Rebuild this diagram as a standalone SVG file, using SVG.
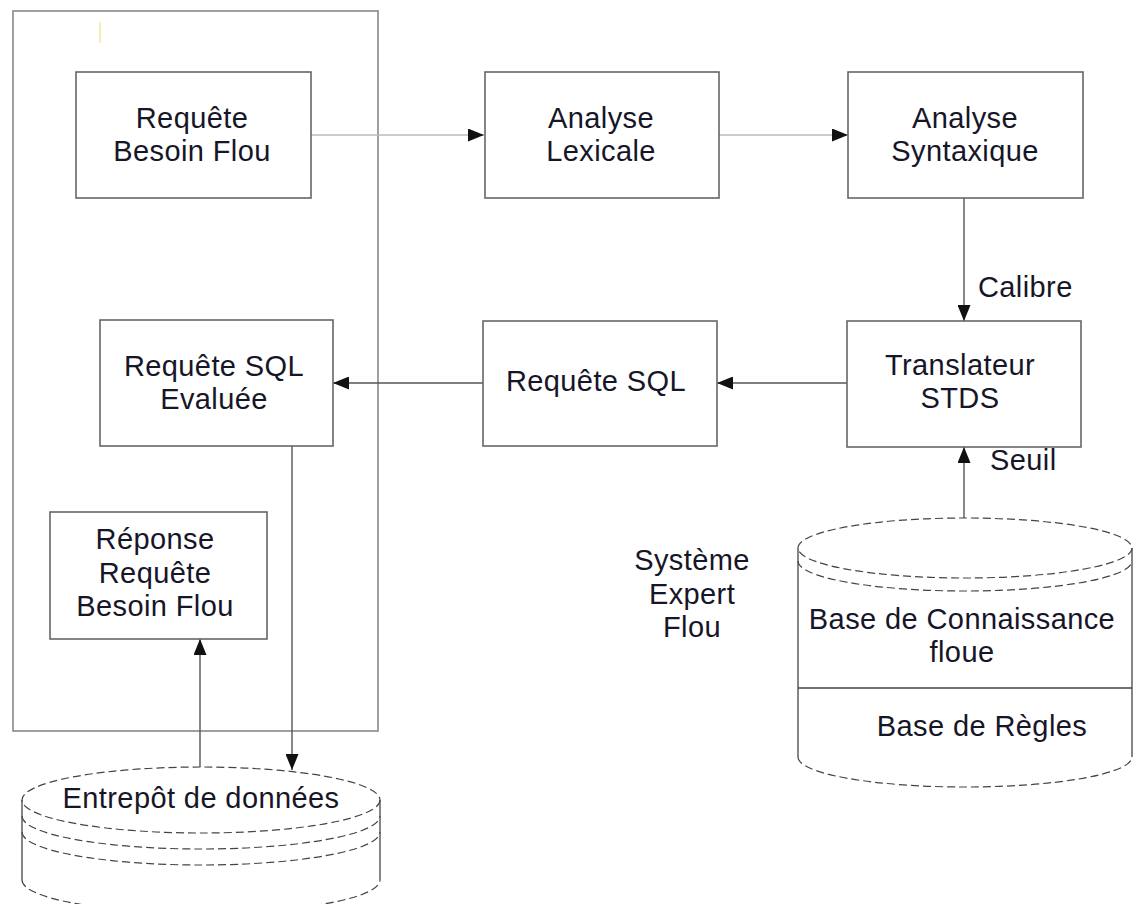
<svg xmlns="http://www.w3.org/2000/svg" width="1133" height="904" viewBox="0 0 1133 904">
<defs>
<marker id="ah" viewBox="0 0 16 13" refX="16" refY="6.5" markerWidth="16" markerHeight="13" markerUnits="userSpaceOnUse" orient="auto">
<path d="M0,0 L16,6.5 L0,13 Z" fill="#111"/>
</marker>
<style>
.box{fill:#fff;stroke:#666;stroke-width:1.6}
.t{font-family:"Liberation Sans",Arial,sans-serif;font-size:29px;letter-spacing:0.4px;fill:#161628;text-anchor:middle}
.tl{font-family:"Liberation Sans",Arial,sans-serif;font-size:29px;letter-spacing:0.4px;fill:#161628}
.c{fill:none;stroke:#555;stroke-width:1.4}
.cl{fill:none;stroke:#bbb;stroke-width:1.6}
.dash{fill:none;stroke:#444;stroke-width:1.2;stroke-dasharray:8 4}
.side{fill:none;stroke:#444;stroke-width:1.3}
</style>
</defs>
<rect width="1133" height="904" fill="#fff"/>
<g id="outer">
<rect x="13" y="11" width="365" height="720" fill="none" stroke="#888" stroke-width="1.6"/>
<line x1="100" y1="22" x2="100" y2="43" stroke="#f3e9a0" stroke-width="1.5"/>
</g>
<g id="connectors">
<line class="cl" x1="311" y1="135" x2="484" y2="135" marker-end="url(#ah)"/>
<line class="cl" x1="719" y1="135" x2="848" y2="135" marker-end="url(#ah)"/>
<line class="c" x1="964" y1="198" x2="964" y2="321" marker-end="url(#ah)"/>
<line class="c" x1="847" y1="383" x2="717" y2="383" marker-end="url(#ah)"/>
<line class="c" x1="483" y1="383" x2="333" y2="383" marker-end="url(#ah)"/>
<line class="c" x1="964" y1="518" x2="964" y2="447" marker-end="url(#ah)"/>
<line class="c" x1="292" y1="446" x2="292" y2="770" marker-end="url(#ah)"/>
<line class="c" x1="200" y1="767" x2="200" y2="639" marker-end="url(#ah)"/>
<text class="tl" x="978" y="297">Calibre</text>
<text class="tl" x="990" y="470">Seuil</text>
</g>
<g id="n-requete-besoin">
<rect class="box" x="76" y="72" width="235" height="126"/>
<text class="t" x="192" y="128">Requête</text>
<text class="t" x="192" y="161">Besoin Flou</text>
</g>
<g id="n-lexicale">
<rect class="box" x="485" y="72" width="234" height="126"/>
<text class="t" x="601" y="128">Analyse</text>
<text class="t" x="601" y="161">Lexicale</text>
</g>
<g id="n-syntaxique">
<rect class="box" x="848" y="72" width="235" height="126"/>
<text class="t" x="965" y="128">Analyse</text>
<text class="t" x="965" y="161">Syntaxique</text>
</g>
<g id="n-translateur">
<rect class="box" x="847" y="321" width="234" height="126"/>
<text class="t" x="960" y="375">Translateur</text>
<text class="t" x="960" y="408">STDS</text>
</g>
<g id="n-requete-sql">
<rect class="box" x="483" y="321" width="234" height="125"/>
<text class="t" x="596" y="391">Requête SQL</text>
</g>
<g id="n-evaluee">
<rect class="box" x="100" y="320" width="233" height="126"/>
<text class="t" x="214" y="376">Requête SQL</text>
<text class="t" x="214" y="409">Evaluée</text>
</g>
<g id="n-reponse">
<rect class="box" x="50" y="512" width="217" height="127"/>
<text class="t" x="155" y="549">Réponse</text>
<text class="t" x="155" y="583">Requête</text>
<text class="t" x="155" y="616">Besoin Flou</text>
</g>
<g id="n-systeme">
<text class="t" x="692" y="570">Système</text>
<text class="t" x="692" y="604">Expert</text>
<text class="t" x="692" y="637">Flou</text>
</g>
<g id="n-base-connaissance">
<path d="M798,548 L798,757 A167,30 0 0 0 1132,757 L1132,548" fill="#fff" stroke="none"/>
<line class="side" x1="798" y1="548" x2="798" y2="757"/>
<line class="side" x1="1132" y1="548" x2="1132" y2="757"/>
<ellipse class="dash" cx="965" cy="548" rx="167" ry="30"/>
<path class="dash" d="M798,561 A167,30 0 0 0 1132,561"/>
<path class="dash" d="M798,757 A167,30 0 0 0 1132,757"/>
<line class="side" x1="798" y1="688" x2="1132" y2="688"/>
<text class="t" x="962" y="629">Base de Connaissance</text>
<text class="t" x="962" y="662">floue</text>
<text class="t" x="982" y="736">Base de Règles</text>
</g>
<g id="n-entrepot">
<path d="M22,800 L22,880 A179,33 0 0 0 380,880 L380,800" fill="#fff" stroke="none"/>
<line class="side" x1="22" y1="800" x2="22" y2="880"/>
<line class="side" x1="380" y1="800" x2="380" y2="880"/>
<ellipse class="dash" cx="201" cy="800" rx="179" ry="33"/>
<path class="dash" d="M22,816 A179,33 0 0 0 380,816"/>
<path class="dash" d="M22,832 A179,33 0 0 0 380,832"/>
<path class="dash" d="M22,880 A179,33 0 0 0 380,880"/>
<text class="t" x="201" y="808">Entrepôt de données</text>
</g>
</svg>
